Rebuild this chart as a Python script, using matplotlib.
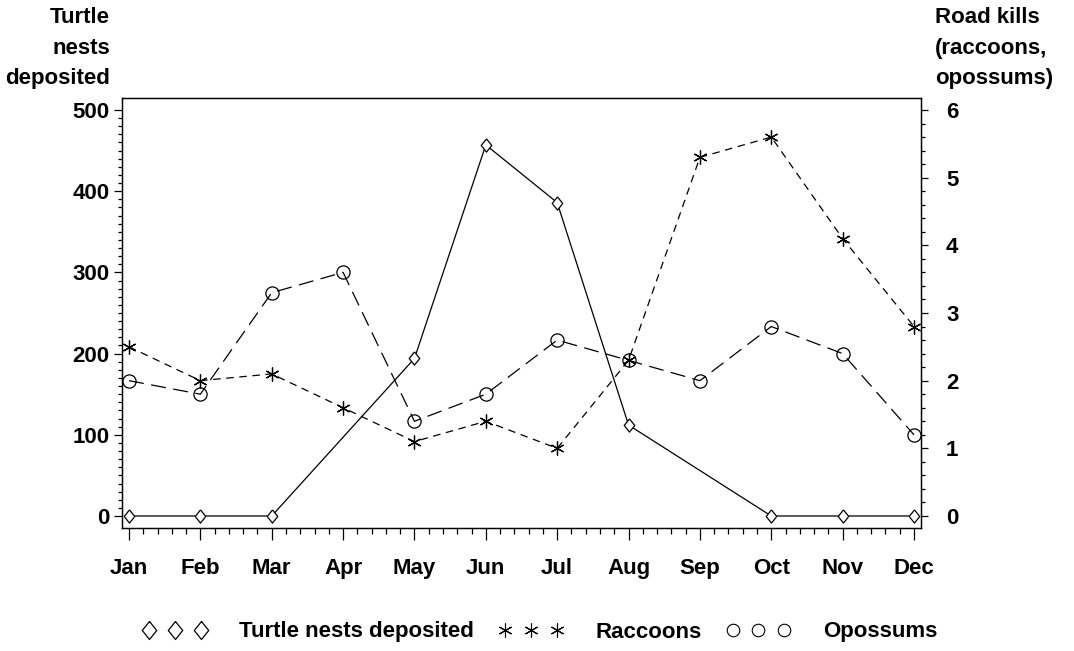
import numpy as np
import matplotlib
matplotlib.use("Agg")
import matplotlib.pyplot as plt
from matplotlib.lines import Line2D
from matplotlib.ticker import FixedLocator

months = ["Jan", "Feb", "Mar", "Apr", "May", "Jun", "Jul", "Aug", "Sep", "Oct", "Nov", "Dec"]
turtle_nests = [0, 0, 0, None, 194, 457, 386, 112, None, 0, 0, 0]
raccoons = [2.5, 2.0, 2.1, 1.6, 1.1, 1.4, 1.0, 2.3, 5.3, 5.6, 4.1, 2.8]
opossums = [2.0, 1.8, 3.3, 3.6, 1.4, 1.8, 2.6, 2.3, 2.0, 2.8, 2.4, 1.2]
left_ticks = [0, 100, 200, 300, 400, 500]
right_ticks = [0, 1, 2, 3, 4, 5, 6]

FONT = "Liberation Sans"
FS = 16
WEIGHT = "bold"
plt.rcParams["font.family"] = [FONT, "DejaVu Sans"]

fig = plt.figure(figsize=(10.74, 6.51), dpi=100)
ax = fig.add_axes([122/1074, 1-528/651, (921-122)/1074, (528-98)/651])
ax2 = ax.twinx()

x = np.arange(len(months))
tx = [i for i, v in enumerate(turtle_nests) if v is not None]
ty = [v for v in turtle_nests if v is not None]

diamond = [(0, 1), (0.8, 0), (0, -1), (-0.8, 0), (0, 1)]
ax.plot(tx, ty, color="black", lw=0.9, marker=diamond, ms=9.5, mfc="white",
        mec="black", mew=0.9, zorder=3)
ax2.plot(x, raccoons, color="black", lw=0.9, linestyle=(0, (6, 4.5)),
         marker=(6, 2, 0), ms=10, mec="black", mew=0.9, zorder=3)
ax2.plot(x, opossums, color="black", lw=0.9, linestyle=(0, (12, 6)),
         marker="o", ms=9.5, mfc="none", mec="black", mew=0.9, zorder=3)

ax.set_xlim(-0.098, 11.098)
ax.set_ylim(-14.8, 514.8)
ax2.set_ylim(-0.177, 6.177)

ax.set_xticks(x)
ax.set_xticklabels(months)
ax.xaxis.set_minor_locator(FixedLocator([i + f for i in range(11) for f in (0.2, 0.4, 0.6, 0.8)]))
ax.set_yticks(left_ticks)
ax.yaxis.set_minor_locator(FixedLocator([v for v in range(0, 501, 10) if v % 100]))
ax2.set_yticks(right_ticks)
ax2.yaxis.set_minor_locator(FixedLocator([v / 5 for v in range(0, 31) if v % 5]))

for a in (ax, ax2):
    for s in a.spines.values():
        s.set_linewidth(0.9)
        s.set_color("black")
    a.tick_params(which="both", width=0.9, color="black")

ax.tick_params(axis="x", which="major", length=8.6, pad=13, labelsize=FS, direction="out")
ax.tick_params(axis="x", which="minor", length=4.3, direction="out")
ax.tick_params(axis="y", which="major", length=5.8, pad=3.0, labelsize=FS, direction="out")
ax.tick_params(axis="y", which="minor", length=2.9, direction="out")
ax2.tick_params(axis="y", which="major", length=5.0, pad=13, labelsize=FS, direction="out")
ax2.tick_params(axis="y", which="minor", length=2.9, direction="out")
for lab in ax.get_xticklabels() + ax.get_yticklabels() + ax2.get_yticklabels():
    lab.set_fontweight(WEIGHT)

fig.text(110/1074, 1-7/651, "Turtle\nnests\ndeposited", ha="right", va="top",
         multialignment="right", fontsize=FS, fontweight=WEIGHT, linespacing=1.6)
fig.text(935/1074, 1-7/651, "Road kills\n(raccoons,\nopossums)", ha="left", va="top",
         multialignment="left", fontsize=FS, fontweight=WEIGHT, linespacing=1.6)

handles = [
    Line2D([], [], linestyle="none", marker=diamond, ms=13, mfc="none", mec="black", mew=0.9),
    Line2D([], [], linestyle="none", marker=(6, 2, 0), ms=10, mec="black", mew=0.8),
    Line2D([], [], linestyle="none", marker="o", ms=9, mfc="none", mec="black", mew=0.8),
]
labels = ["Turtle nests deposited", "Raccoons", "Opossums"]
leg = fig.legend(handles, labels, loc="center", bbox_to_anchor=(540/1074, 1-632/651),
                 ncol=3, frameon=False, numpoints=3, handlelength=2.9,
                 handletextpad=1.45, columnspacing=1.1, borderpad=0, borderaxespad=0,
                 prop={"size": FS, "weight": WEIGHT, "family": [FONT, "DejaVu Sans"]})

fig.savefig("out.png", dpi=100)
